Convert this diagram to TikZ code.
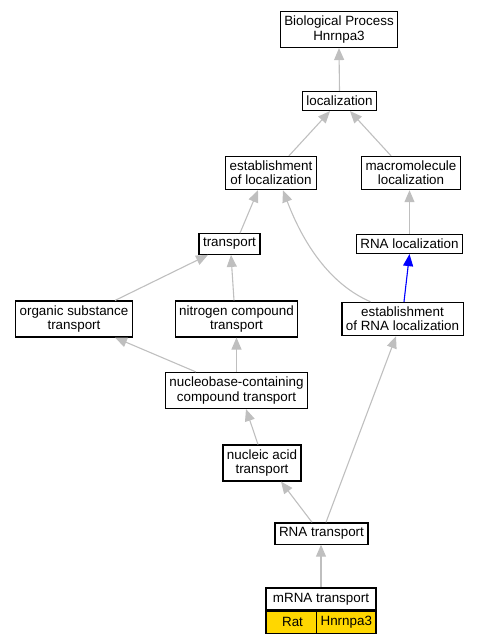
\documentclass[tikz,border=0pt]{standalone}
\usepackage{fontspec}
\setmainfont{Liberation Sans}
\usetikzlibrary{arrows.meta,positioning}
\definecolor{goldfill}{RGB}{255,215,0}

\begin{document}
\begin{tikzpicture}[
            x=1pt, y=-1pt,
            term/.style={draw=black, line width=1.2pt, fill=white, align=center,
                font=\fontsize{13.4}{14.2}\selectfont, inner xsep=4pt, inner ysep=4.6pt},
            gene/.style={term, fill=goldfill, minimum height=22pt, inner ysep=0pt},
            edge/.style={draw=black!25, line width=1.1pt, -{Triangle[length=12pt,width=10pt]}},
            edge blue/.style={edge, draw=blue, fill=blue},
        ]
        \useasboundingbox (0,0) rectangle (479,643);
        % TOP: localization branch
        \node[term] (bp) at (339,29.5) {Biological Process\\Hnrnpa3};
        \node[term] (loc) at (339.5,101) {localization};
        \node[term] (estloc) at (271,173) {establishment\\of localization};
        \node[term] (macro) at (411,173) {macromolecule\\localization};
        \node[term] (trans) at (229.5,244) {transport};
        \node[term] (rnaloc) at (409.5,244) {RNA localization};
        % MIDDLE: transport branch
        \node[term] (orgsub) at (74,319) {organic substance\\transport};
        \node[term] (nitro) at (236.5,319) {nitrogen compound\\transport};
        \node[term] (estrna) at (402.5,319) {establishment\\of RNA localization};
        \node[term] (nucbase) at (236.5,390.5) {nucleobase-containing\\compound transport};
        \node[term] (nucacid) at (262,463) {nucleic acid\\transport};
        \node[term] (rnatrans) at (321.5,533.5) {RNA transport};
        % BOTTOM: annotated term
        \node[term, minimum width=110pt, minimum height=22pt, inner ysep=0pt] (mrna) at (321,599) {mRNA transport};
        \node[gene, minimum width=53pt, anchor=north west] (rat) at (mrna.south west) {Rat};
        \node[gene, minimum width=57pt, anchor=north east] (gene) at (mrna.south east) {Hnrnpa3};
        % EDGES
        \draw[edge] (loc.north) -- (bp.south);
        \draw[edge] ([xshift=18pt]estloc.north) -- ([xshift=-9.5pt]loc.south);
        \draw[edge] ([xshift=-20pt]macro.north) -- ([xshift=10.5pt]loc.south);
        \draw[edge] ([xshift=10.5pt]trans.north) -- ([xshift=-13pt]estloc.south);
        \draw[edge] (rnaloc.north) -- (rnaloc.north |- macro.south);
        \draw[edge blue] ([xshift=1.5pt]estrna.north) -- (rnaloc.south);
        \draw[edge] ([xshift=-32pt]estrna.north) .. controls (325,282) and (300,235) .. ([xshift=12pt]estloc.south);
        \draw[edge] ([xshift=41pt]orgsub.north) -- ([xshift=-21.5pt]trans.south);
        \draw[edge] ([xshift=-2.5pt]nitro.north) -- ([xshift=1.5pt]trans.south);
        \draw[edge] ([xshift=-40.5pt]nucbase.north) -- ([xshift=41pt]orgsub.south);
        \draw[edge] (nucbase.north) -- (nitro.south);
        \draw[edge] ([xshift=-4pt]nucacid.north) -- ([xshift=9.5pt]nucbase.south);
        \draw[edge] ([xshift=-9.5pt]rnatrans.north) -- ([xshift=19pt]nucacid.south);
        \draw[edge] ([xshift=4.5pt]rnatrans.north) -- ([xshift=-6.5pt]estrna.south);
        \draw[edge] (mrna.north) -- (mrna.north |- rnatrans.south);
\end{tikzpicture}
\end{document}
